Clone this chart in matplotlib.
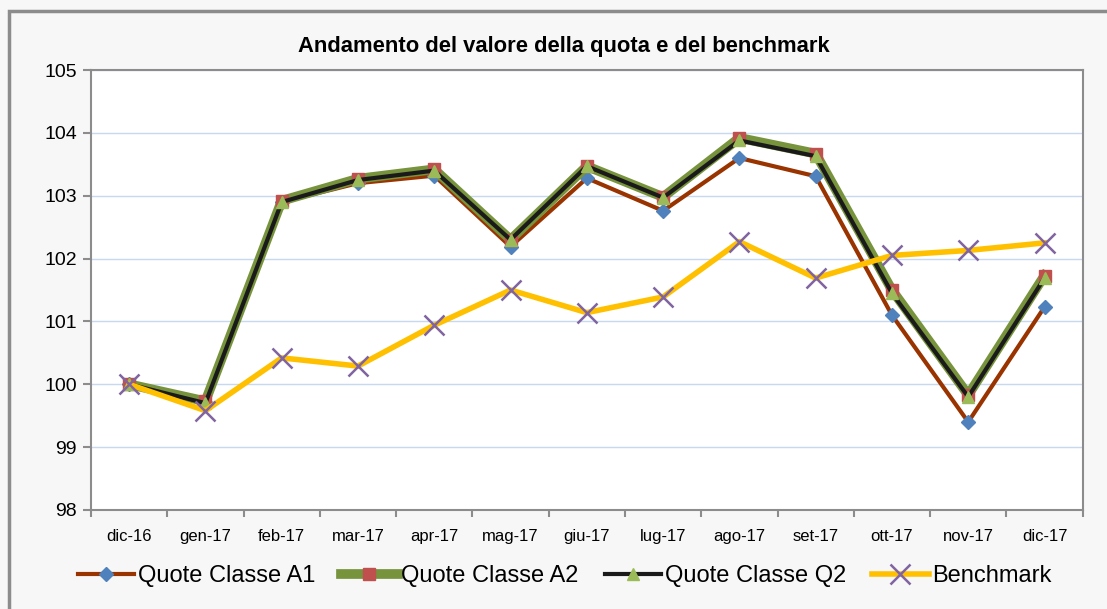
import matplotlib.pyplot as plt
from matplotlib.patches import Rectangle

months = ["dic-16", "gen-17", "feb-17", "mar-17", "apr-17", "mag-17", "giu-17",
          "lug-17", "ago-17", "set-17", "ott-17", "nov-17", "dic-17"]
classe_a1 = [100.0, 99.72, 102.9, 103.2, 103.32, 102.19, 103.28, 102.76, 103.6, 103.31, 101.1, 99.4, 101.23]
classe_a2 = [100.0, 99.73, 102.92, 103.27, 103.42, 102.3, 103.47, 102.98, 103.92, 103.67, 101.5, 99.83, 101.73]
classe_q2 = [100.0, 99.7, 102.9, 103.25, 103.4, 102.3, 103.47, 102.97, 103.88, 103.63, 101.45, 99.8, 101.69]
benchmark = [100.0, 99.58, 100.42, 100.29, 100.94, 101.5, 101.14, 101.39, 102.27, 101.69, 102.05, 102.13, 102.25]
yticks = [98, 99, 100, 101, 102, 103, 104, 105]


def main():
    fig = plt.figure(figsize=(11.07, 6.09), dpi=100)
    fig.patch.set_facecolor("#f7f7f7")
    # chart border
    fig.patches.append(Rectangle((0.008, -0.1), 1.2, 1.082, transform=fig.transFigure,
                                 fill=False, edgecolor="#8c8c8c", linewidth=2.5))

    ax = fig.add_axes([0.0822, 0.1626, 0.8958, 0.7224])
    ax.set_facecolor("white")
    x = list(range(len(months)))

    ax.plot(x, classe_a1, color="#993300", lw=3, marker="D", ms=7,
            mfc="#4F81BD", mec="#4F81BD", label="Quote Classe A1", zorder=3)
    ax.plot(x, classe_a2, color="#77933C", lw=7, marker="s", ms=9,
            mfc="#C0504D", mec="#C0504D", label="Quote Classe A2", zorder=4)
    ax.plot(x, classe_q2, color="#1a1a1a", lw=3, marker="^", ms=9,
            mfc="#9BBB59", mec="#9BBB59", label="Quote Classe Q2", zorder=5)
    ax.plot(x, benchmark, color="#FFC000", lw=4, marker="x", ms=14, mew=1.8,
            mfc="#8064A2", mec="#8064A2", label="Benchmark", zorder=6)

    ax.set_xlim(-0.5, len(months) - 0.5)
    ax.set_ylim(98, 105)
    ax.set_yticks(yticks)
    ax.set_yticklabels([str(v) for v in yticks], fontsize=14, family="Liberation Sans")
    ax.set_xticks(x)
    ax.set_xticklabels(months, fontsize=12, family="Liberation Sans")
    ax.set_xticks([i - 0.5 for i in range(len(months) + 1)], minor=True)
    ax.tick_params(axis="x", which="major", length=0, pad=14)
    ax.tick_params(axis="x", which="minor", length=5, color="#8c8c8c", width=1.5)
    ax.tick_params(axis="y", length=6, color="#8c8c8c", width=1.5, pad=4)
    ax.grid(axis="y", color="#c6d9f1", lw=1)
    ax.set_axisbelow(True)
    for sp in ax.spines.values():
        sp.set_color("#8c8c8c")
        sp.set_linewidth(1.5)

    fig.text(0.509, 0.923, "Andamento del valore della quota e del benchmark",
             ha="center", va="center", fontsize=15.8, fontweight="bold",
             family="Liberation Sans")

    fig.legend(loc="center", bbox_to_anchor=(0.51, 0.054), ncol=4, frameon=False,
               prop={"family": "Liberation Sans", "size": 17},
               handlelength=2.4, handletextpad=0.15, columnspacing=1.1)

    fig.savefig("out.png", dpi=100, facecolor=fig.get_facecolor())


if __name__ == "__main__":
    main()
